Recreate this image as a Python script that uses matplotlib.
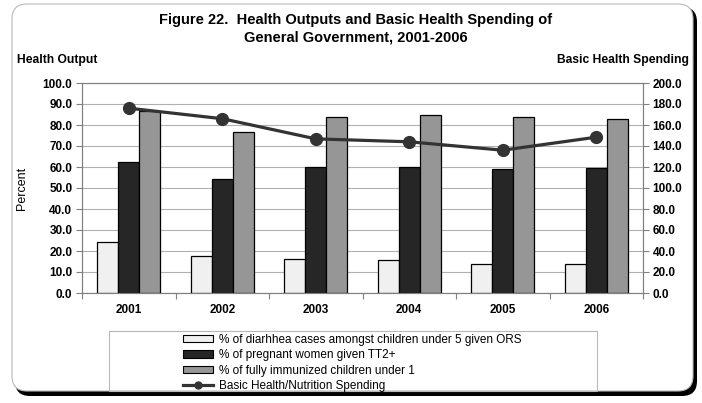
import matplotlib
matplotlib.use("Agg")
import matplotlib.pyplot as plt
from matplotlib.patches import FancyBboxPatch, Rectangle, Patch
from matplotlib.lines import Line2D
from matplotlib.transforms import IdentityTransform
import numpy as np

plt.rcParams['font.family'] = ['Liberation Sans', 'DejaVu Sans']

# ---- data ----
years = ["2001", "2002", "2003", "2004", "2005", "2006"]
diarrhea_ors = [24.1, 17.7, 16.4, 15.5, 14.0, 14.0]
pregnant_tt2 = [62.4, 54.3, 59.9, 59.9, 58.9, 59.4]
fully_immunized = [86.8, 76.9, 83.9, 85.0, 83.9, 82.8]
basic_health_spending = [176.0, 166.0, 146.8, 144.0, 136.0, 148.4]

series_labels = [
    "% of diarhhea cases amongst children under 5 given ORS",
    "% of pregnant women given TT2+",
    "% of fully immunized children under 1",
    "Basic Health/Nutrition Spending",
]
left_ticks = [0, 10, 20, 30, 40, 50, 60, 70, 80, 90, 100]
right_ticks = [0, 20, 40, 60, 80, 100, 120, 140, 160, 180, 200]

W, H = 702, 403
fig = plt.figure(figsize=(W / 100, H / 100), dpi=100)
fig.patch.set_facecolor("white")

# rounded chart frame with a dark drop shadow
shadow = FancyBboxPatch((15, 7), 682, 389,
                        boxstyle="round,pad=0,rounding_size=15",
                        transform=IdentityTransform(), facecolor="black",
                        edgecolor="black", lw=0, zorder=0)
frame = FancyBboxPatch((12, 12), 681, 387,
                       boxstyle="round,pad=0,rounding_size=15",
                       transform=IdentityTransform(), facecolor="white",
                       edgecolor="#b8b8b8", lw=0.8, zorder=0.1)
fig.add_artist(shadow)
fig.add_artist(frame)

# plot area
ax = fig.add_axes([82 / W, (H - 293) / H, 561 / W, 210 / H])
ax.set_zorder(2)
ax.patch.set_alpha(0)
x = np.arange(len(years))
bw = 0.225
bar_kw = dict(width=bw, edgecolor="black", linewidth=0.9, zorder=3)
b1 = ax.bar(x - bw, diarrhea_ors, color="#f0f0f0", **bar_kw)
b2 = ax.bar(x, pregnant_tt2, color="#262626", **bar_kw)
b3 = ax.bar(x + bw, fully_immunized, color="#969696", **bar_kw)

ax.set_xlim(-0.5, len(years) - 0.5)
ax.set_ylim(0, 100)
ax.set_yticks(left_ticks)
ax.set_yticklabels([f"{v:.1f}" for v in left_ticks])
ax.set_xticks(x)
ax.set_xticklabels(years)
ax.set_xticks(np.arange(-0.5, len(years)), minor=True)
ax.tick_params(axis="x", which="major", length=0, pad=8)
ax.tick_params(axis="x", which="minor", length=4, color="#808080", width=0.8)
ax.tick_params(axis="y", which="major", length=4, color="#808080", width=0.8,
               pad=3)
for lbl in ax.get_xticklabels() + ax.get_yticklabels():
    lbl.set_fontweight("bold")
    lbl.set_fontsize(8.5)
ax.yaxis.grid(True, color="#b0b0b0", linewidth=0.8, zorder=0)
ax.set_axisbelow(True)
for s in ax.spines.values():
    s.set_color("#808080")
    s.set_linewidth(0.8)

# secondary axis for spending
ax2 = ax.twinx()
ax2.set_zorder(3)
ax2.patch.set_alpha(0)
ln, = ax2.plot(x, basic_health_spending, color="#333333", lw=2.3,
               marker="o", markersize=8.5, zorder=4)
ax2.set_ylim(0, 200)
ax2.set_yticks(right_ticks)
ax2.set_yticklabels([f"{v:.1f}" for v in right_ticks])
ax2.tick_params(axis="y", length=4, color="#808080", width=0.8, pad=3)
for lbl in ax2.get_yticklabels():
    lbl.set_fontweight("bold")
    lbl.set_fontsize(8.5)
for s in ax2.spines.values():
    s.set_color("#808080")
    s.set_linewidth(0.8)

# titles and axis captions
fig.text(356 / W, 1 - 24.3 / H,
         "Figure 22.  Health Outputs and Basic Health Spending of",
         ha="center", va="baseline", fontsize=10.5, fontweight="bold")
fig.text(356 / W, 1 - 41 / H, "General Government, 2001-2006",
         ha="center", va="baseline", fontsize=10.5, fontweight="bold")
fig.text(17 / W, 1 - 63.3 / H, "Health Output", ha="left", va="baseline",
         fontsize=8.7, fontweight="bold")
fig.text(689 / W, 1 - 63.3 / H, "Basic Health Spending", ha="right",
         va="baseline", fontsize=8.7, fontweight="bold")
fig.text(22 / W, 1 - 188 / H, "Percent", rotation=90, ha="center",
         va="center", fontsize=9)

# legend
legend_box = Rectangle((109, 12), 488, 60, transform=IdentityTransform(),
                       facecolor="none", edgecolor="#b8b8b8", lw=0.8,
                       zorder=1)
fig.add_artist(legend_box)
handles = [
    Patch(facecolor="#f0f0f0", edgecolor="black", lw=0.8),
    Patch(facecolor="#262626", edgecolor="black", lw=0.8),
    Patch(facecolor="#969696", edgecolor="black", lw=0.8),
    Line2D([], [], color="#333333", lw=2.3, marker="o", markersize=5),
]
leg = fig.legend(handles, series_labels, loc="upper left",
                 bbox_to_anchor=(179 / W, 1 - 330 / H), frameon=False,
                 fontsize=8.5, handlelength=2.55, handleheight=0.6,
                 handletextpad=0.5, labelspacing=0.3, borderpad=0.3,
                 numpoints=1, borderaxespad=0)

fig.savefig("out.png", dpi=100)
